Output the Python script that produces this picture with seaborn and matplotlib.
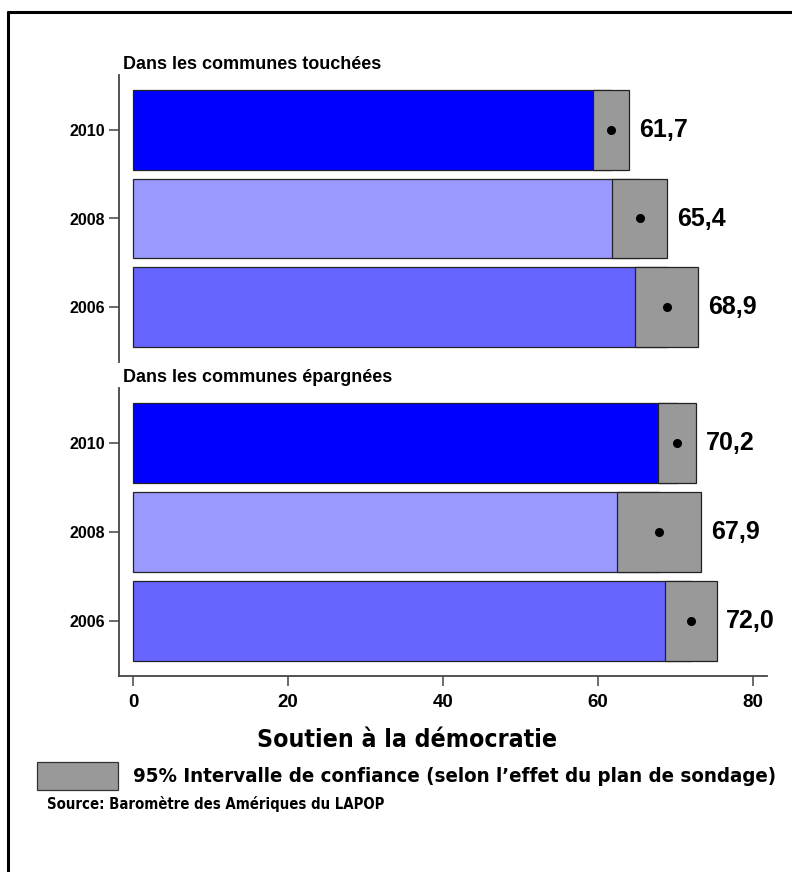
import matplotlib
matplotlib.use("Agg")
import matplotlib.pyplot as plt
from matplotlib import font_manager as fm
from matplotlib.lines import Line2D
from matplotlib.patches import Rectangle
import pandas as pd
import seaborn as sns

# Support for democracy, by year, with 95% confidence bounds
years = ["2010", "2008", "2006"]
touched_mean = [61.7, 65.4, 68.9]
touched_lo = [59.4, 61.8, 64.8]
touched_hi = [64.0, 68.9, 72.9]
spared_mean = [70.2, 67.9, 72.0]
spared_lo = [67.7, 62.5, 68.6]
spared_hi = [72.7, 73.3, 75.3]

panel_titles = ["Dans les communes touchées", "Dans les communes épargnées"]
year_colors = {"2010": "#0000FF", "2008": "#9999FF", "2006": "#6666FF"}
ci_color = "#999999"
x_ticks = [0, 20, 40, 60, 80]

sns.set_theme(style="white")
plt.rcParams["font.family"] = ["Liberation Sans", "DejaVu Sans"]
plt.rcParams["font.weight"] = "bold"
plt.rcParams["text.color"] = "black"
plt.rcParams["xtick.color"] = "black"
plt.rcParams["ytick.color"] = "black"

# Condensed face for the footer texts, if one is present
fonts = fm.fontManager.ttflist
names = {f.name for f in fonts}
footer_font = dict(family=["Liberation Sans", "DejaVu Sans"])
if "Liberation Sans Narrow" in names:
    footer_font = dict(family=["Liberation Sans Narrow", "DejaVu Sans"])
elif any(f.name == "DejaVu Sans" and f.stretch in ("condensed", 75, "semi-condensed")
         for f in fonts):
    footer_font = dict(family=["DejaVu Sans"], stretch="condensed")

W, H = 792, 872
fig = plt.figure(figsize=(W / 100, H / 100), dpi=100)

left, right = 119 / W, 767 / W
ax_top = fig.add_axes([left, 1 - 362 / H, right - left, 287 / H])
ax_bot = fig.add_axes([left, 1 - 676 / H, right - left, 288 / H])

panels = [
    (ax_top, touched_mean, touched_lo, touched_hi, panel_titles[0]),
    (ax_bot, spared_mean, spared_lo, spared_hi, panel_titles[1]),
]

for ax, mean, lo, hi, title in panels:
    df = pd.DataFrame({"year": years, "value": mean})
    sns.barplot(data=df, y="year", x="value", hue="year", order=years,
                palette=year_colors, saturation=1, width=0.9,
                edgecolor="#222222", linewidth=0.9, legend=False, ax=ax,
                zorder=2)
    pos = list(range(len(years)))
    widths = [h - l for l, h in zip(lo, hi)]
    ax.barh(pos, widths, left=lo, height=0.9, color=ci_color,
            edgecolor="#222222", linewidth=0.9, zorder=3)
    ax.plot(mean, pos, "o", color="black", markersize=5.5, zorder=4)
    for p, m, h in zip(pos, mean, hi):
        ax.annotate(f"{m:.1f}".replace(".", ","), xy=(h, p),
                    xytext=(7, 0), textcoords="offset points",
                    ha="left", va="center", fontsize=18, fontweight="bold",
                    color="black")
    ax.set_xlim(-1.8, 81.8)
    ax.set_ylim(2.62, -0.62)
    ax.set_ylabel("")
    ax.set_xlabel("")
    for side in ["top", "right"]:
        ax.spines[side].set_visible(False)
    ax.spines["left"].set_color("#444444")
    ax.spines["left"].set_linewidth(1.3)
    ax.tick_params(axis="y", left=True, length=7, width=1.1, color="#444444",
                   labelsize=11.5, pad=3, labelcolor="black")
    for t in ax.get_yticklabels():
        t.set_fontweight("bold")
    ax.text(-1.3, -0.64, title, ha="left", va="bottom", fontsize=13,
            fontweight="bold", color="black", clip_on=False)

ax_top.spines["bottom"].set_visible(False)
ax_top.tick_params(axis="x", bottom=False, labelbottom=False)

ax_bot.spines["bottom"].set_color("#444444")
ax_bot.spines["bottom"].set_linewidth(1.3)
ax_bot.set_xticks(x_ticks)
ax_bot.set_xticklabels([str(t) for t in x_ticks], fontweight="bold")
ax_bot.tick_params(axis="x", bottom=True, length=7, width=1.1,
                   color="#444444", labelsize=13.5, pad=6, labelcolor="black")

# Axis title, legend swatch and source note
t_xlabel = fig.text(407 / W, 1 - 740 / H, "Soutien à la démocratie",
                    ha="center", va="center", fontsize=19, fontweight="bold",
                    color="black", **footer_font)
fig.patches.append(Rectangle((37 / W, 1 - 790 / H), 81 / W, 28 / H,
                             transform=fig.transFigure, facecolor=ci_color,
                             edgecolor="#333333", linewidth=0.9))
t_legend = fig.text(133 / W, 1 - 776 / H,
                    "95% Intervalle de confiance (selon l\u2019effet du plan de sondage)",
                    ha="left", va="center", fontsize=16, fontweight="bold",
                    color="black", **footer_font)
t_source = fig.text(47 / W, 1 - 804 / H,
                    "Source: Baromètre des Amériques du LAPOP",
                    ha="left", va="center", fontsize=11.2, fontweight="bold",
                    color="black", **footer_font)

# Fit the footer texts to their line lengths in pixels
fig.canvas.draw()
renderer = fig.canvas.get_renderer()
for txt, target in [(t_xlabel, 300), (t_legend, 645), (t_source, 336)]:
    w = txt.get_window_extent(renderer).width
    txt.set_fontsize(txt.get_fontsize() * target / w)

# Outer frame: top and left rules
fig.add_artist(Line2D([8 / W, 1], [1 - 12 / H, 1 - 12 / H],
                      transform=fig.transFigure, color="black", linewidth=2.2))
fig.add_artist(Line2D([8 / W, 8 / W], [1 - 12 / H, 0],
                      transform=fig.transFigure, color="black", linewidth=2.2))

fig.savefig("out.png", dpi=100)
